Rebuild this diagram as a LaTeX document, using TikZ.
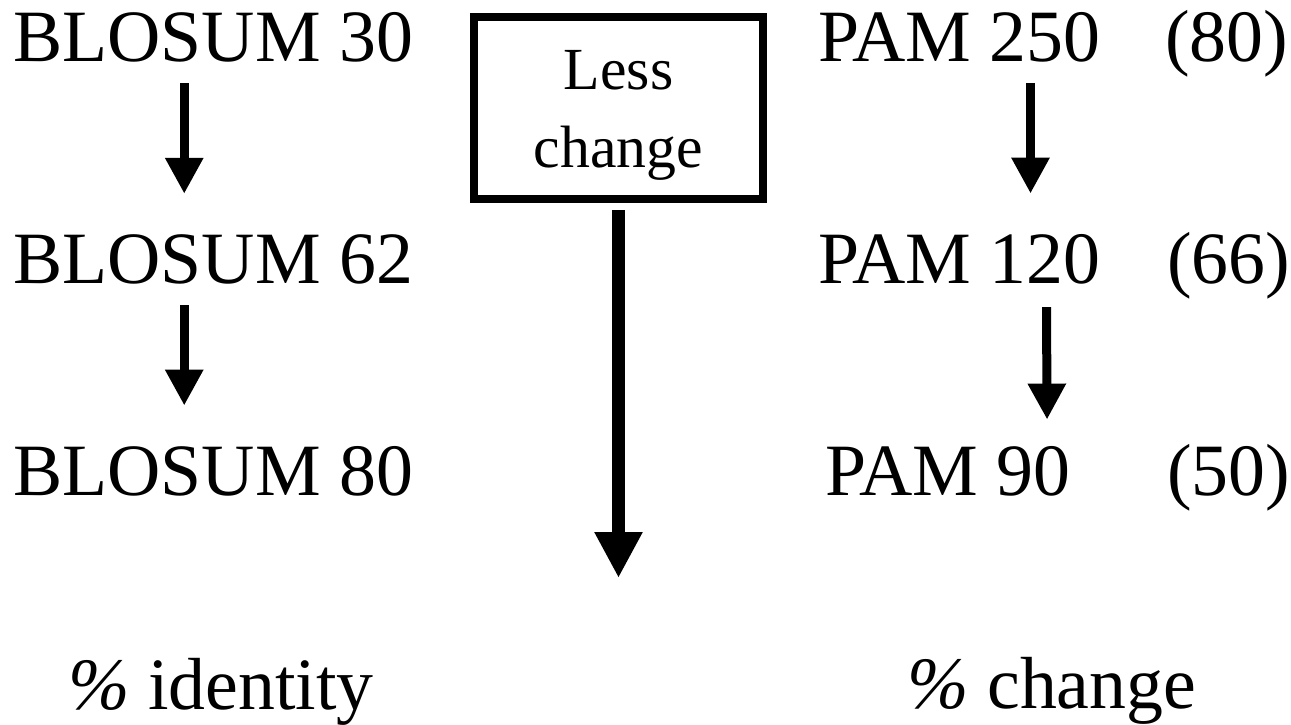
\documentclass[tikz,border=0pt]{standalone}
\usepackage{fontspec}
\setmainfont{Liberation Serif}
\usetikzlibrary{arrows.meta}
\newcommand{\low}[1]{\raisebox{-0.14cm}[\height][\depth]{#1}}

\begin{document}
\begin{tikzpicture}[x=0.02cm,y=-0.02cm,
  lbl/.style={anchor=base west,inner sep=0pt,font=\fontsize{42}{50}\selectfont},
  stepbox/.style={draw,line width=1.6mm,minimum width=5.78cm,minimum height=3.64cm,
                  inner sep=0pt,align=center,font=\fontsize{34}{44.4}\selectfont},
  arr/.style={-{Triangle[width=7.2mm,length=7.2mm]},line width=1.8mm},
  bigarr/.style={-{Triangle[width=9mm,length=9.2mm]},line width=2.6mm}]
\useasboundingbox (0,0) rectangle (1291,724);
% BLOSUM column
\node[lbl](b30) at (13,61){BLOSUM 30};
\node[lbl](b62) at (13,283){BLOSUM 62};
\node[lbl](b80) at (13,495){BLOSUM 80};
\node[lbl](ident) at (68,709){\textit{\%} identity};
% PAM column
\node[lbl](p250) at (818,61){PAM 250};
\node[lbl](p120) at (818,283){PAM 120};
\node[lbl](p90) at (825,495){PAM 90};
\node[lbl](n80) at (1165,61){(80)};
\node[lbl](n66) at (1167,283){(66)};
\node[lbl](n50) at (1167,495){(50)};
\node[lbl](chg) at (907,708){\textit{\%} change};
% middle box and arrow
\node[stepbox](less) at (618.5,108){\low{Less}\\\low{change}};
\coordinate (tip) at (618.5,578);

\draw[arr]([shift={(-29,21)}]b30.south)--([shift={(-29,-40)}]b62.north);
\draw[arr]([shift={(-29,21)}]b62.south)--([shift={(-29,-40)}]b80.north);
\draw[arr]([shift={(71,21)}]p250.south)--([shift={(71,-40)}]p120.north);
\draw[arr]([shift={(87,23)}]p120.south)--([shift={(99,-26)}]p90.north);
\draw[bigarr]([yshift=-0.14cm]less.south)--(tip);
\end{tikzpicture}
\end{document}
